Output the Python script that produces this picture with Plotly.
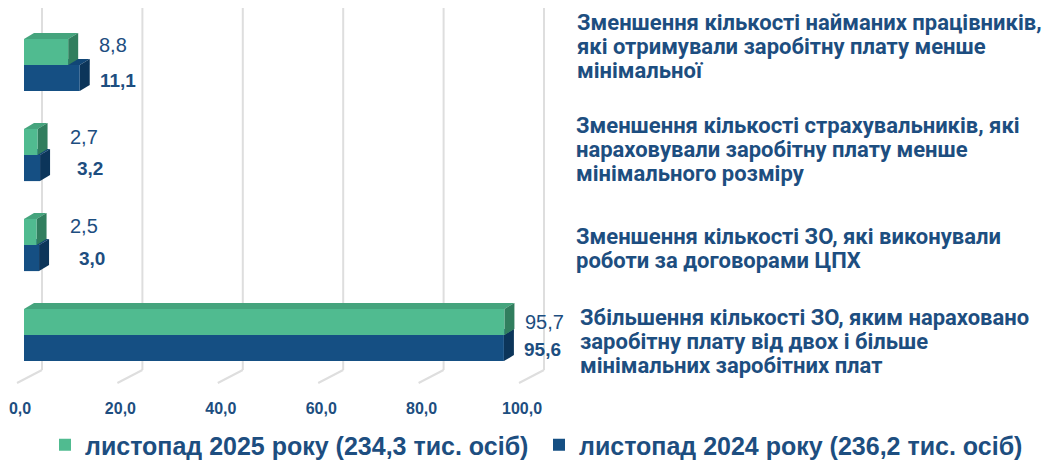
import plotly.graph_objects as go

# ---------------- data ----------------
categories = [
    ["Зменшення кількості найманих працівників,", "які отримували заробітну плату менше", "мінімальної"],
    ["Зменшення кількості страхувальників, які", "нараховували заробітну плату менше", "мінімального розміру"],
    ["Зменшення кількості ЗО, які виконували", "роботи за договорами ЦПХ"],
    ["Збільшення кількості ЗО, яким нараховано", "заробітну плату від двох і більше", "мінімальних заробітних плат"],
]
series_2025_name = "листопад 2025 року (234,3 тис. осіб)"
series_2024_name = "листопад 2024 року (236,2 тис. осіб)"
values_2025 = [8.8, 2.7, 2.5, 95.7]
values_2024 = [11.1, 3.2, 3.0, 95.6]
label_2025 = ["8,8", "2,7", "2,5", "95,7"]
label_2024 = ["11,1", "3,2", "3,0", "95,6"]
tick_values = [0, 20, 40, 60, 80, 100]
tick_labels = ["0,0", "20,0", "40,0", "60,0", "80,0", "100,0"]

# ---------------- layout geometry (styles) ----------------
PAGE_OFF = 8                      # default body margin of the html page
W_FIG, H_FIG = 1059 - PAGE_OFF, 463 - PAGE_OFF
# plot area in screen pixels
L, R, T, B = 24, 526, 20, 380
PW, PH = R - L, B - T
n = len(values_2025)
ypos = [n - 1 - i for i in range(n)]          # top category first
BW = 0.29                                      # bar thickness (y units)
DX_PX, DY_PX = 10, 6                           # 3D depth in px
DX = DX_PX * 100 / PW
DY = DY_PX * n / PH


def xp(px):
    return (px - L) / PW


def yp(py):
    return (B - py) / PH


GREEN, GREEN_TOP, GREEN_SIDE = "#50BB90", "#45A47D", "#317E5E"
BLUE, BLUE_TOP, BLUE_SIDE = "#154F83", "#114676", "#0C355A"
TEXT = "#1D4E80"
SANS = "Liberation Sans, Arial, sans-serif"

fig = go.Figure()
fig.add_trace(go.Bar(
    name=series_2025_name, y=ypos, x=values_2025, orientation="h",
    width=BW, offset=0, marker=dict(color=GREEN, line=dict(width=0)),
    hoverinfo="x", legend="legend",
))
fig.add_trace(go.Bar(
    name=series_2024_name, y=ypos, x=values_2024, orientation="h",
    width=BW, offset=-BW, marker=dict(color=BLUE, line=dict(width=0)),
    hoverinfo="x", legend="legend2",
))

shapes = []
# back-wall grid lines with a perspective floor edge
for t in tick_values:
    fx = L + t * PW / 100
    shapes.append(dict(type="line", xref="paper", yref="paper",
                       x0=xp(fx + 18), x1=xp(fx + 18), y0=yp(370), y1=yp(0),
                       line=dict(color="#DEDEDE", width=2), layer="below"))
    shapes.append(dict(type="line", xref="paper", yref="paper",
                       x0=xp(fx - 7), x1=xp(fx + 18), y0=yp(383), y1=yp(370),
                       line=dict(color="#DEDEDE", width=2), layer="below"))


def faces(v, y_lo, y_hi, top_col, side_col):
    top = (f"M0,{y_hi} L{v},{y_hi} L{v + DX},{y_hi + DY} L{DX},{y_hi + DY} Z")
    side = (f"M{v},{y_lo} L{v},{y_hi} L{v + DX},{y_hi + DY} L{v + DX},{y_lo + DY} Z")
    return [dict(type="path", xref="x", yref="y", path=top, fillcolor=top_col,
                 line=dict(width=0), layer="below"),
            dict(type="path", xref="x", yref="y", path=side, fillcolor=side_col,
                 line=dict(width=0), layer="below")]


for i in range(n):
    c = ypos[i]
    shapes += faces(values_2024[i], c - BW, c, BLUE_TOP, BLUE_SIDE)
for i in range(n):
    c = ypos[i]
    shapes += faces(values_2025[i], c, c + BW, GREEN_TOP, GREEN_SIDE)

annotations = []
# value labels
g_dx = [29, 30, 31, 19]
g_dy = [7, 5, 6, 0]
b_dx = [18, 35, 38, 18]
b_dy = [-2, 0, 0, -1]
for i in range(n):
    c = ypos[i]
    annotations.append(dict(x=values_2025[i], y=c + BW / 2, xref="x", yref="y",
                            text=label_2025[i], showarrow=False, xanchor="left",
                            yanchor="middle", xshift=g_dx[i], yshift=g_dy[i],
                            font=dict(family=SANS, size=20, color=TEXT)))
    annotations.append(dict(x=values_2024[i], y=c - BW / 2, xref="x", yref="y",
                            text=f"<b>{label_2024[i]}</b>", showarrow=False, xanchor="left",
                            yanchor="middle", xshift=b_dx[i], yshift=b_dy[i],
                            font=dict(family=SANS, size=19, color=TEXT)))

# category labels on the right (one annotation per line for tight spacing)
first_baseline = [30, 133, 244, 325]
label_left = [575, 574, 574, 578]
LINE_GAP = 24
for i, lines in enumerate(categories):
    for k, line in enumerate(lines):
        base = first_baseline[i] + k * LINE_GAP
        annotations.append(dict(x=xp(label_left[i]), y=yp(base - 7.5), xref="paper", yref="paper",
                                text=f"<b>{line}</b>", showarrow=False, xanchor="left",
                                yanchor="middle",
                                font=dict(family="Roboto, sans-serif", size=22, color=TEXT)))

legend_common = dict(orientation="h", xanchor="left", yanchor="middle",
                     font=dict(family=SANS, size=25, color=TEXT, weight="bold"),
                     itemsizing="constant", bgcolor="rgba(0,0,0,0)", itemwidth=30)

fig.update_layout(
    width=W_FIG, height=H_FIG,
    margin=dict(l=L - PAGE_OFF, r=W_FIG - (R - PAGE_OFF), t=T - PAGE_OFF,
                b=H_FIG - (B - PAGE_OFF), pad=0, autoexpand=False),
    paper_bgcolor="white", plot_bgcolor="rgba(0,0,0,0)",
    barmode="overlay",
    showlegend=True,
    legend=dict(x=xp(45), y=yp(445), **legend_common),
    legend2=dict(x=xp(539), y=yp(445), **legend_common),
    xaxis=dict(range=[0, 100], tickvals=tick_values, ticktext=[f"<b>{t}</b>" for t in tick_labels],
               showgrid=False, zeroline=False, showline=False,
               ticks="", ticklabelstandoff=17, ticklabelshift=-4,
               ticklabeloverflow="allow",
               tickfont=dict(family=SANS, size=16, color=TEXT),
               fixedrange=True, automargin=False),
    yaxis=dict(range=[-0.5, n - 0.5], showticklabels=False, showgrid=False, zeroline=False,
               showline=False, fixedrange=True, automargin=False),
    shapes=shapes,
    annotations=annotations,
)

fig.write_html("out.html")
